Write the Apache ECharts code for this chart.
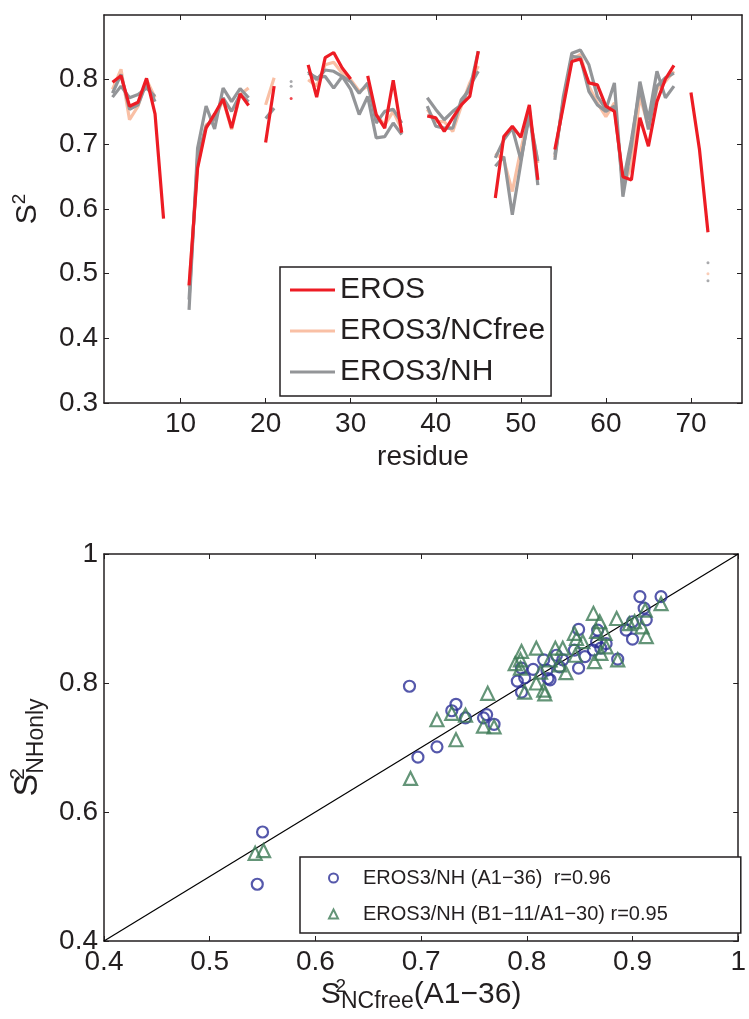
<!DOCTYPE html>
<html>
<head>
<meta charset="utf-8">
<script src="https://cdn.jsdelivr.net/npm/echarts@6/dist/echarts.min.js"></script>
<style>
  html, body { margin: 0; padding: 0; background: #fff; }
  #chart { width: 749px; height: 1019px; }
</style>
</head>
<body>
<div id="chart"></div>
<script>
// S2 per residue, residue 1..76 (null = not available)
const eros = [
  null, 0.796, 0.806, 0.759, 0.765, 0.802, 0.747, 0.585, null, null,
  0.482, 0.663, 0.725, 0.747, 0.770, 0.725, 0.778, 0.760, null, 0.703,
  0.790, null, 0.771, null, 0.823, 0.773, 0.834, 0.842, 0.818, 0.801,
  null, 0.806, 0.746, 0.725, 0.799, 0.718, null, null, 0.744, 0.741,
  0.720, 0.741, 0.761, 0.774, 0.844, null, 0.617, 0.712, 0.728, 0.711,
  0.761, 0.645, null, 0.692, 0.759, 0.828, 0.832, 0.795, 0.792, 0.759,
  0.751, 0.650, 0.645, 0.741, 0.697, 0.766, 0.801, 0.822, null, 0.780,
  0.692, 0.564, null, null, null, null
];
const eros3NCfree = [
  null, 0.785, 0.816, 0.738, 0.759, 0.800, 0.772, null, null, null,
  0.480, 0.666, 0.730, 0.738, 0.769, 0.723, 0.777, 0.787, null, 0.761,
  0.803, null, null, null, 0.800, 0.790, 0.823, 0.827, 0.810, 0.800,
  0.782, 0.790, 0.746, 0.730, 0.751, 0.723, null, null, 0.754, 0.735,
  0.735, 0.720, 0.759, 0.795, 0.821, null, 0.686, 0.676, 0.627, 0.692,
  0.748, 0.671, null, 0.680, 0.769, 0.831, 0.839, 0.790, 0.764, 0.743,
  0.764, 0.635, 0.666, 0.774, 0.728, 0.785, 0.797, 0.813, null, null,
  null, 0.500, null, null, null, null
];
// EROS3/NH, chain A and chain B
const eros3NH_A = [
  null, 0.773, 0.790, 0.772, 0.777, 0.787, 0.774, null, null, null,
  0.444, 0.694, 0.759, 0.724, 0.787, 0.766, 0.786, 0.772, null, 0.740,
  0.756, null, 0.797, null, 0.813, 0.800, 0.815, 0.813, 0.805, 0.797,
  0.779, 0.795, 0.733, 0.751, 0.754, 0.733, null, null, 0.772, 0.754,
  0.738, 0.751, 0.761, 0.790, 0.813, null, 0.666, 0.681, 0.591, 0.671,
  0.754, 0.637, null, 0.676, 0.774, 0.841, 0.846, 0.823, 0.774, 0.754,
  0.795, 0.619, 0.697, 0.797, 0.738, 0.813, 0.772, 0.790, null, null,
  null, 0.517, null, null, null, null
];
const eros3NH_B = [
  null, 0.779, 0.808, 0.754, 0.761, 0.795, 0.766, null, null, null,
  0.460, 0.680, 0.728, 0.740, 0.772, 0.751, 0.777, 0.766, null, null,
  null, null, 0.790, null, 0.810, 0.803, 0.805, 0.787, 0.805, 0.785,
  0.746, 0.774, 0.710, 0.712, 0.733, 0.715, null, null, 0.759, 0.728,
  0.725, 0.725, 0.769, 0.785, 0.844, null, 0.679, 0.707, 0.725, 0.676,
  0.743, 0.674, null, 0.684, 0.766, 0.836, 0.834, 0.782, 0.761, 0.751,
  0.759, 0.640, 0.707, 0.787, 0.723, 0.790, 0.803, 0.810, null, null,
  null, 0.489, null, null, null, null
];
const residueTicks = [10, 20, 30, 40, 50, 60, 70];
const s2Ticks = [0.3, 0.4, 0.5, 0.6, 0.7, 0.8];

// scatter: [S2 NCfree, S2 NHonly]
const nhA = [
  [0.545, 0.488], [0.550, 0.569], [0.689, 0.795], [0.697, 0.685], [0.715, 0.701],
  [0.729, 0.757], [0.733, 0.767], [0.742, 0.746], [0.759, 0.746], [0.762, 0.751],
  [0.769, 0.736], [0.791, 0.803], [0.795, 0.823], [0.798, 0.808], [0.795, 0.786],
  [0.806, 0.821], [0.816, 0.836], [0.820, 0.807], [0.822, 0.805], [0.819, 0.820],
  [0.834, 0.836], [0.831, 0.825], [0.828, 0.843], [0.849, 0.823], [0.855, 0.841],
  [0.845, 0.851], [0.849, 0.883], [0.866, 0.864], [0.875, 0.861], [0.863, 0.851],
  [0.870, 0.854], [0.867, 0.882], [0.886, 0.837], [0.894, 0.882], [0.900, 0.868],
  [0.900, 0.895], [0.913, 0.898], [0.911, 0.916], [0.907, 0.934], [0.927, 0.934]
];
const nhB = [
  [0.543, 0.536], [0.551, 0.540], [0.690, 0.652], [0.715, 0.743], [0.729, 0.753],
  [0.742, 0.750], [0.763, 0.784], [0.759, 0.733], [0.769, 0.732], [0.733, 0.712],
  [0.789, 0.830], [0.794, 0.836], [0.795, 0.849], [0.794, 0.823], [0.809, 0.854],
  [0.813, 0.817], [0.809, 0.800], [0.816, 0.789], [0.817, 0.783], [0.798, 0.786],
  [0.822, 0.836], [0.827, 0.854], [0.834, 0.854], [0.831, 0.828], [0.837, 0.816],
  [0.845, 0.877], [0.847, 0.869], [0.846, 0.843], [0.853, 0.864], [0.863, 0.908],
  [0.864, 0.833], [0.869, 0.895], [0.866, 0.880], [0.874, 0.877], [0.870, 0.846],
  [0.875, 0.856], [0.885, 0.900], [0.886, 0.836], [0.897, 0.892], [0.902, 0.895],
  [0.909, 0.887], [0.912, 0.913], [0.913, 0.872], [0.927, 0.923]
];
const diagonal = [[0.4, 0.4], [1, 1]];

const font = 'Liberation Sans, Arial, Helvetica, sans-serif';
const ink = '#231f20';
const RED = '#ed1c24', SALMON = '#f9c0a5', GREY = '#939598';
const BLUE = '#2b2e96', GREEN = '#3d7a56';

function pairs(arr) {
  return arr.map((v, i) => [i + 1, v]);
}
// points with no neighbour on either side are drawn as dots
function lonely(arr) {
  return arr.map((v, i) => [i + 1, v])
    .filter((p, i) => p[1] != null && arr[i - 1] == null && arr[i + 1] == null);
}

function lineSeries(name, arr, color, z) {
  return {
    name: name, type: 'line', xAxisIndex: 0, yAxisIndex: 0,
    data: pairs(arr), symbol: 'none', z: z,
    lineStyle: { color: color, width: 3.2 }, itemStyle: { color: color }
  };
}
function dotSeries(name, arr, color, z) {
  return {
    name: name, type: 'scatter', xAxisIndex: 0, yAxisIndex: 0,
    data: lonely(arr), symbol: 'circle', symbolSize: 3, z: z,
    itemStyle: { color: color }
  };
}

function frameAxis(extra) {
  return Object.assign({
    type: 'value',
    axisLine: { show: true, onZero: false, lineStyle: { color: ink, width: 1.5 } },
    axisTick: { show: true, inside: true, length: 5, lineStyle: { color: ink, width: 1 } },
    axisLabel: { show: false },
    splitLine: { show: false }
  }, extra);
}
const tickFont = { fontFamily: font, fontSize: 28, color: ink };

const chart = echarts.init(document.getElementById('chart'), null, { renderer: 'canvas' });
chart.setOption({
  animation: false,
  backgroundColor: '#fff',
  grid: [
    { left: 104, top: 15, width: 638, height: 388, containLabel: false },
    { left: 104, top: 554, width: 639, height: 387, containLabel: false }
  ],
  xAxis: [
    frameAxis({
      gridIndex: 0, position: 'bottom', min: 1, max: 76,
      axisTick: { show: true, inside: true, length: 5, customValues: residueTicks, lineStyle: { color: ink } },
      axisLabel: Object.assign({ show: true, margin: 7, customValues: residueTicks }, tickFont),
      name: 'residue', nameLocation: 'middle', nameGap: 40,
      nameTextStyle: { fontFamily: font, fontSize: 28, color: ink }
    }),
    frameAxis({
      gridIndex: 0, position: 'top', min: 1, max: 76,
      axisTick: { show: true, inside: true, length: 5, customValues: residueTicks, lineStyle: { color: ink } }
    }),
    frameAxis({
      gridIndex: 1, position: 'bottom', min: 0.4, max: 1, interval: 0.1,
      axisLabel: Object.assign({ show: true, margin: 7 }, tickFont),
      name: '{s|S}{sup|2}{sub|NCfree}{s|(A1\u221236)}', nameLocation: 'middle', nameGap: 33,
      nameTextStyle: {
        fontFamily: font, color: ink,
        rich: {
          s: { fontFamily: font, fontSize: 30, color: ink, lineHeight: 36, verticalAlign: 'middle' },
          sup: { fontFamily: font, fontSize: 19, color: ink, verticalAlign: 'top', lineHeight: 18, width: 0.1 },
          sub: { fontFamily: font, fontSize: 23, color: ink, verticalAlign: 'bottom', lineHeight: 20 }
        }
      }
    }),
    frameAxis({ gridIndex: 1, position: 'top', min: 0.4, max: 1, interval: 0.1 })
  ],
  yAxis: [
    frameAxis({
      gridIndex: 0, position: 'left', min: 0.3, max: 0.9,
      axisTick: { show: true, inside: true, length: 5, customValues: s2Ticks, lineStyle: { color: ink } },
      axisLabel: Object.assign({ show: true, margin: 6, customValues: s2Ticks }, tickFont),
      name: '{s|S}{sup|2}', nameLocation: 'middle', nameGap: 58,
      nameTextStyle: {
        fontFamily: font, color: ink,
        rich: {
          s: { fontFamily: font, fontSize: 30, color: ink, lineHeight: 36, verticalAlign: 'middle' },
          sup: { fontFamily: font, fontSize: 19, color: ink, verticalAlign: 'top', lineHeight: 18 }
        }
      }
    }),
    frameAxis({
      gridIndex: 0, position: 'right', min: 0.3, max: 0.9,
      axisTick: { show: true, inside: true, length: 5, customValues: s2Ticks, lineStyle: { color: ink } }
    }),
    frameAxis({
      gridIndex: 1, position: 'left', min: 0.4, max: 1, interval: 0.2,
      axisLabel: Object.assign({ show: true, margin: 6 }, tickFont),
      name: '{s|S}{sup|2}{sub|NHonly}', nameLocation: 'middle', nameGap: 56,
      nameTextStyle: {
        fontFamily: font, color: ink,
        rich: {
          s: { fontFamily: font, fontSize: 34, color: ink, lineHeight: 40, verticalAlign: 'middle' },
          sup: { fontFamily: font, fontSize: 21, color: ink, verticalAlign: 'top', lineHeight: 18, width: 0.1 },
          sub: { fontFamily: font, fontSize: 23, color: ink, verticalAlign: 'bottom', lineHeight: 20 }
        }
      }
    }),
    frameAxis({ gridIndex: 1, position: 'right', min: 0.4, max: 1, interval: 0.2 })
  ],
  legend: [
    {
      data: ['EROS', 'EROS3/NCfree', 'EROS3/NH'],
      orient: 'vertical', left: 280, top: 267, icon: 'rect',
      padding: [8, 6, 9, 10], itemWidth: 45, itemHeight: 3, itemGap: 11,
      borderColor: ink, borderWidth: 1.5, borderRadius: 0, backgroundColor: '#fff',
      textStyle: { fontFamily: font, fontSize: 30, color: ink, lineHeight: 30 },
      selectedMode: false
    },
    {
      data: ['EROS3/NH (A1\u221236)  r=0.96', 'EROS3/NH (B1\u221211/A1\u221230) r=0.95'],
      orient: 'vertical', left: 300, top: 857,
      padding: [9, 73, 7, 28], itemWidth: 9, itemHeight: 9, itemGap: 12,
      borderColor: ink, borderWidth: 1.5, borderRadius: 0, backgroundColor: '#fff',
      textStyle: { fontFamily: font, fontSize: 20, color: ink, lineHeight: 24, padding: [0, 0, 0, 20] },
      selectedMode: false
    }
  ],
  series: [
    lineSeries('EROS', eros, RED, 5),
    lineSeries('EROS3/NCfree', eros3NCfree, SALMON, 3),
    lineSeries('EROS3/NH', eros3NH_A, GREY, 4),
    lineSeries('EROS3/NH', eros3NH_B, GREY, 4),
    dotSeries('EROS dots', eros, RED, 5),
    dotSeries('NCfree dots', eros3NCfree, SALMON, 3),
    dotSeries('NH dots A', eros3NH_A, GREY, 4),
    dotSeries('NH dots B', eros3NH_B, GREY, 4),
    {
      name: 'y=x', type: 'line', xAxisIndex: 2, yAxisIndex: 2,
      data: diagonal, symbol: 'none', silent: true, z: 2,
      lineStyle: { color: '#000', width: 1.2 }
    },
    {
      name: 'EROS3/NH (A1\u221236)  r=0.96', type: 'scatter', xAxisIndex: 2, yAxisIndex: 2,
      data: nhA, symbol: 'circle', symbolSize: 11, z: 3,
      itemStyle: { color: 'rgba(0,0,0,0)', borderColor: BLUE, borderWidth: 2.2 }
    },
    {
      name: 'EROS3/NH (B1\u221211/A1\u221230) r=0.95', type: 'scatter', xAxisIndex: 2, yAxisIndex: 2,
      data: nhB, symbol: 'triangle', symbolSize: 13, z: 3,
      itemStyle: { color: 'rgba(0,0,0,0)', borderColor: GREEN, borderWidth: 2.2 }
    }
  ]
});
</script>
</body>
</html>
